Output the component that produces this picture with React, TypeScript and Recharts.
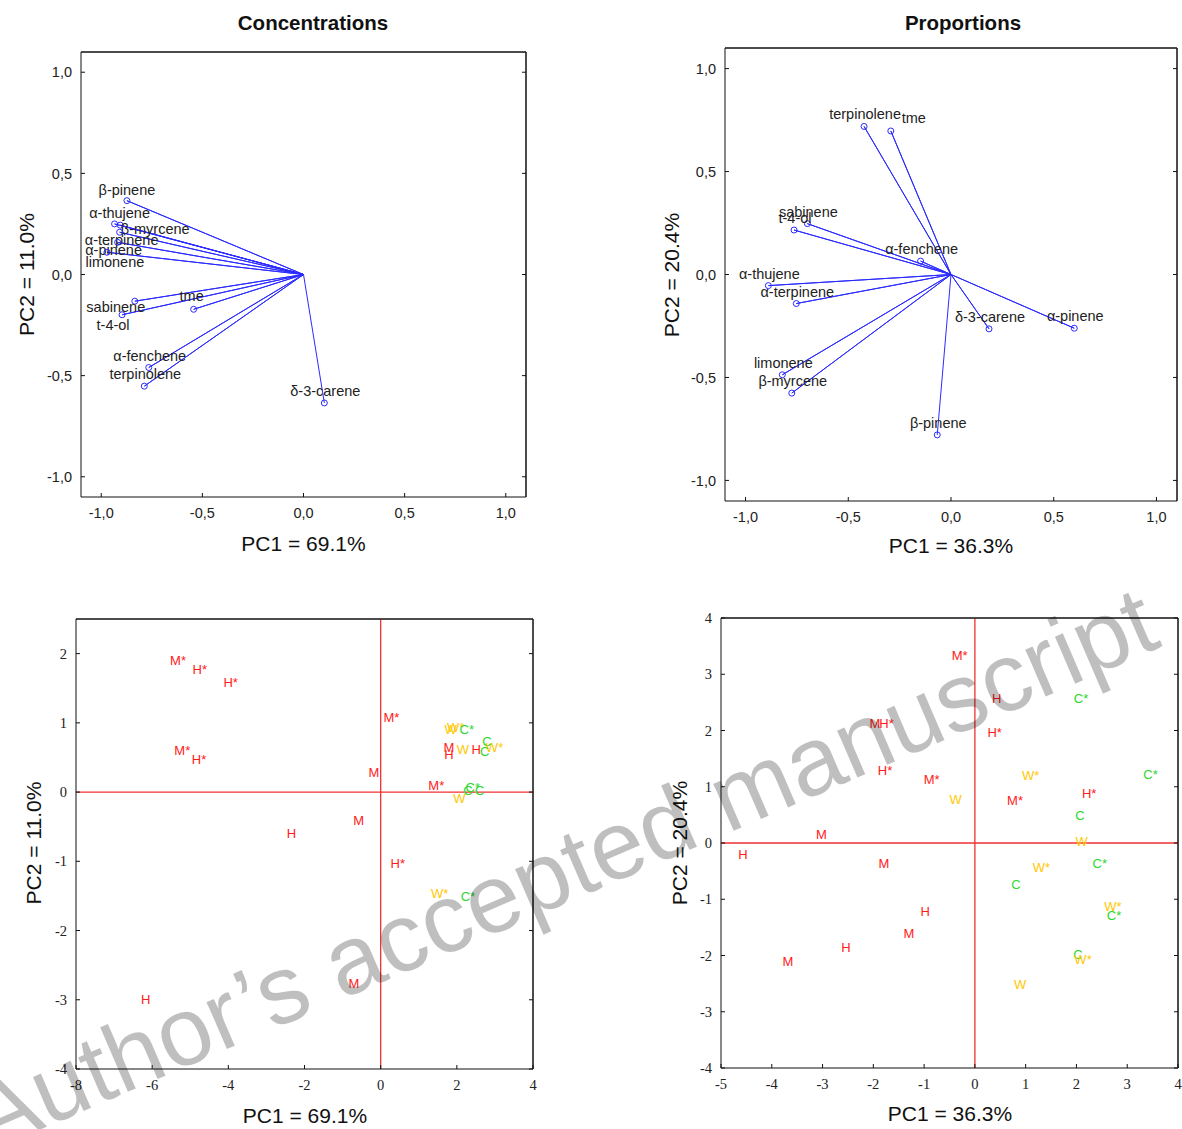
import { ScatterChart, Scatter, XAxis, YAxis, ReferenceLine, Label } from 'recharts';

// loadings, concentrations
const concNames = ['β-pinene', 'α-thujene', 'β-myrcene', 'α-terpinene', 'α-pinene', 'limonene', 'sabinene', 't-4-ol', 'tme', 'α-fenchene', 'terpinolene', 'δ-3-carene'];
const concPC1 = [-0.873, -0.934, -0.906, -0.909, -0.919, -0.972, -0.834, -0.897, -0.543, -0.765, -0.787, 0.103];
const concPC2 = [0.365, 0.250, 0.244, 0.209, 0.159, 0.110, -0.132, -0.199, -0.172, -0.460, -0.552, -0.635];

// loadings, proportions
const propNames = ['terpinolene', 'tme', 'sabinene', 't-4-ol', 'α-fenchene', 'α-thujene', 'α-terpinene', 'δ-3-carene', 'α-pinene', 'limonene', 'β-myrcene', 'β-pinene'];
const propPC1 = [-0.423, -0.293, -0.699, -0.764, -0.148, -0.889, -0.753, 0.185, 0.600, -0.821, -0.775, -0.067];
const propPC2 = [0.719, 0.697, 0.247, 0.216, 0.065, -0.054, -0.141, -0.264, -0.261, -0.487, -0.576, -0.779];

// scores, concentrations
const concTags = ['M*', 'H*', 'H*', 'M*', 'W', 'W*', 'C*', 'M*', 'H*', 'M', 'H', 'W', 'H', 'C', 'C', 'W*', 'M', 'M*', 'C', 'C*', 'C', 'W', 'M', 'H', 'H*', 'W*', 'C*', 'M', 'H'];
const concScorePC1 = [-5.32, -4.75, -3.94, 0.28, 1.84, 1.97, 2.26, -5.21, -4.77, 1.79, 1.79, 2.16, 2.51, 2.79, 2.73, 2.99, -0.18, 1.46, 2.29, 2.42, 2.6, 2.07, -0.58, -2.34, 0.45, 1.55, 2.29, -0.7, -6.17];
const concScorePC2 = [1.9, 1.77, 1.59, 1.08, 0.9, 0.93, 0.9, 0.6, 0.47, 0.64, 0.55, 0.62, 0.62, 0.73, 0.58, 0.65, 0.29, 0.09, 0.03, 0.06, 0.03, -0.09, -0.41, -0.6, -1.03, -1.47, -1.51, -2.76, -2.99];

// scores, proportions
const propTags = ['M*', 'H', 'C*', 'M', 'H*', 'H*', 'H*', 'M*', 'W*', 'C*', 'H*', 'W', 'M*', 'C', 'M', 'W', 'H', 'M', 'W*', 'C*', 'C', 'W*', 'C*', 'H', 'M', 'H', 'M', 'C', 'W*', 'W'];
const propScorePC1 = [-0.3, 0.43, 2.09, -1.97, -1.74, 0.39, -1.77, -0.85, 1.1, 3.46, 2.25, -0.38, 0.79, 2.07, -3.02, 2.1, -4.57, -1.79, 1.31, 2.46, 0.81, 2.72, 2.74, -0.98, -1.3, -2.54, -3.68, 2.03, 2.13, 0.89];
const propScorePC2 = [3.33, 2.57, 2.57, 2.13, 2.13, 1.96, 1.29, 1.13, 1.2, 1.21, 0.88, 0.77, 0.76, 0.49, 0.16, 0.02, -0.21, -0.37, -0.44, -0.37, -0.74, -1.13, -1.29, -1.21, -1.61, -1.85, -2.1, -1.99, -2.07, -2.52];

const loadTicks = [-1, -0.5, 0, 0.5, 1];
const concXTicks = [-8, -6, -4, -2, 0, 2, 4];
const concYTicks = [-4, -3, -2, -1, 0, 1, 2];
const propXTicks = [-5, -4, -3, -2, -1, 0, 1, 2, 3, 4];
const propYTicks = [-4, -3, -2, -1, 0, 1, 2, 3, 4];

// label nudges (px) where the default "above the circle" placement was moved
const concShift: Record<string, [number, number]> = {
  'β-pinene': [0, -11],
  'α-thujene': [5, -11],
  'β-myrcene': [35, 4],
  'α-terpinene': [2, 8],
  'α-pinene': [-4, 8],
  'limonene': [8, 10],
  'sabinene': [-19, 6],
  't-4-ol': [-9, 10],
  'tme': [-2, -13],
};
const propShift: Record<string, [number, number]> = {
  'tme': [23, -13],
};

const SANS = '"Liberation Sans", Arial, sans-serif';
const SERIF = '"Liberation Serif", "Times New Roman", serif';
const BLUE = '#2b2bff';

const comma = (v: number) => v.toFixed(1).replace('.', ',');
const intFmt = (v: number) => String(v);

function starData(names: string[], xs: number[], ys: number[]) {
  const out: any[] = [];
  names.forEach((name, i) => {
    out.push({ x: 0, y: 0, origin: true });
    out.push({ x: xs[i], y: ys[i], name });
  });
  return out;
}

function scoreData(tags: string[], xs: number[], ys: number[]) {
  return tags.map((tag, i) => ({ x: xs[i], y: ys[i], tag }));
}

const vectorShape = (shift: Record<string, [number, number]>) => (props: any) => {
  const { cx, cy, payload } = props;
  if (payload.origin) return <g />;
  const [dx, dy] = shift[payload.name] ?? [1, -12];
  return (
    <g>
      <circle cx={cx} cy={cy} r={3} fill="none" stroke={BLUE} strokeWidth={1} />
      <text x={cx + dx} y={cy + dy} textAnchor="middle" dominantBaseline="central" fontFamily={SANS} fontSize={14.5} fill="#222">
        {payload.name}
      </text>
    </g>
  );
};

const tagColor = (tag: string) => (tag[0] === 'W' ? '#ffc800' : tag[0] === 'C' ? '#2cd82c' : '#ff1a1a');

const tagShape = (props: any) => {
  const { cx, cy, payload } = props;
  return (
    <text x={cx} y={cy} textAnchor="middle" dominantBaseline="central" fontFamily={SANS} fontSize={13} fill={tagColor(payload.tag)}>
      {payload.tag}
    </text>
  );
};

const textAt = (key: string, text: string, x: number, y: number, size: number, opts: { vertical?: boolean; bold?: boolean } = {}) => (
  <Label
    key={key}
    content={() => (
      <text
        x={x}
        y={y}
        transform={opts.vertical ? `rotate(-90 ${x} ${y})` : undefined}
        textAnchor="middle"
        dominantBaseline="central"
        fontFamily={SANS}
        fontSize={size}
        fontWeight={opts.bold ? 'bold' : 'normal'}
        fill="#111"
      >
        {text}
      </text>
    )}
  />
);

interface FrameOpts {
  xd: [number, number];
  yd: [number, number];
  xt: number[];
  yt: number[];
  fmt: (v: number) => string;
  font: string;
  leftW: number;
  bottomH: number;
  title?: string;
  titleX?: number;
  xTitle: string;
  xTitlePos: [number, number];
  yTitle: string;
  yTitlePos: [number, number];
}

function frame(o: FrameOpts) {
  const tickFont = { fontSize: 14.5, fontFamily: o.font, fill: '#222' };
  const line = { stroke: '#111' };
  return [
    <XAxis key="xb" type="number" dataKey="x" domain={o.xd} ticks={o.xt} interval={0} allowDataOverflow height={o.bottomH}
      tickFormatter={o.fmt} tickSize={-4} tickMargin={15} tick={tickFont} axisLine={line} tickLine={line}>
      {textAt('xt', o.xTitle, o.xTitlePos[0], o.xTitlePos[1], 21)}
      {o.title ? textAt('tt', o.title, o.titleX ?? 0, 22, 20.5, { bold: true }) : null}
    </XAxis>,
    <XAxis key="xt" xAxisId="top" orientation="top" type="number" domain={o.xd} ticks={o.xt} interval={0} allowDataOverflow height={1}
      tickFormatter={() => ''} tickSize={-4} axisLine={line} tickLine={line} />,
    <YAxis key="yl" type="number" dataKey="y" domain={o.yd} ticks={o.yt} interval={0} allowDataOverflow width={o.leftW}
      tickFormatter={o.fmt} tickSize={-4} tickMargin={13} tick={tickFont} axisLine={line} tickLine={line}>
      {textAt('yt', o.yTitle, o.yTitlePos[0], o.yTitlePos[1], 21, { vertical: true })}
    </YAxis>,
    <YAxis key="yr" yAxisId="right" orientation="right" type="number" domain={o.yd} ticks={o.yt} interval={0} allowDataOverflow width={1}
      tickFormatter={() => ''} tickSize={-4} axisLine={line} tickLine={line} />,
    // keeps the top and right axes in use
    <Scatter key="ghost" xAxisId="top" yAxisId="right" data={[]} dataKey="y" isAnimationActive={false} />,
    <ReferenceLine key="rt" y={o.yd[1]} stroke="#111" />,
    <ReferenceLine key="rr" x={o.xd[1]} stroke="#111" />,
  ];
}

export default function App() {
  const concStar = starData(concNames, concPC1, concPC2);
  const propStar = starData(propNames, propPC1, propPC2);
  const concScores = scoreData(concTags, concScorePC1, concScorePC2);
  const propScores = scoreData(propTags, propScorePC1, propScorePC2);

  return (
    <div style={{ position: 'absolute', left: 0, top: 0, width: 1182, height: 1129, background: '#fff', overflow: 'hidden' }}>
      <div style={{ position: 'absolute', left: 0, top: 0 }}>
        <ScatterChart width={591} height={565} margin={{ top: 51, right: 64, bottom: 0, left: 0 }}>
          {frame({
            xd: [-1.1, 1.1], yd: [-1.1, 1.1], xt: loadTicks, yt: loadTicks, fmt: comma, font: SANS,
            leftW: 81, bottomH: 68, title: 'Concentrations', titleX: 313,
            xTitle: 'PC1 = 69.1%', xTitlePos: [303.5, 543], yTitle: 'PC2 = 11.0%', yTitlePos: [26, 274.5],
          })}
          <Scatter data={concStar} line={{ stroke: BLUE, strokeWidth: 1 }} lineType="joint" shape={vectorShape(concShift)} isAnimationActive={false} />
        </ScatterChart>
      </div>

      <div style={{ position: 'absolute', left: 591, top: 0 }}>
        <ScatterChart width={591} height={565} margin={{ top: 47, right: 4, bottom: 0, left: 0 }}>
          {frame({
            xd: [-1.1, 1.1], yd: [-1.1, 1.1], xt: loadTicks, yt: loadTicks, fmt: comma, font: SANS,
            leftW: 134, bottomH: 64, title: 'Proportions', titleX: 372,
            xTitle: 'PC1 = 36.3%', xTitlePos: [360, 545], yTitle: 'PC2 = 20.4%', yTitlePos: [80, 275],
          })}
          <Scatter data={propStar} line={{ stroke: BLUE, strokeWidth: 1 }} lineType="joint" shape={vectorShape(propShift)} isAnimationActive={false} />
        </ScatterChart>
      </div>

      <div style={{ position: 'absolute', left: 0, top: 565 }}>
        <ScatterChart width={591} height={564} margin={{ top: 53, right: 57, bottom: 0, left: 0 }}>
          {frame({
            xd: [-8, 4], yd: [-4, 2.5], xt: concXTicks, yt: concYTicks, fmt: intFmt, font: SERIF,
            leftW: 76, bottomH: 60,
            xTitle: 'PC1 = 69.1%', xTitlePos: [305, 550], yTitle: 'PC2 = 11.0%', yTitlePos: [33, 278],
          })}
          <ReferenceLine x={0} stroke="#f03030" strokeWidth={1.3} />
          <ReferenceLine y={0} stroke="#f03030" strokeWidth={1.3} />
          <Scatter data={concScores} shape={tagShape} isAnimationActive={false} />
        </ScatterChart>
      </div>

      <div style={{ position: 'absolute', left: 591, top: 565 }}>
        <ScatterChart width={591} height={564} margin={{ top: 52, right: 3, bottom: 0, left: 0 }}>
          {frame({
            xd: [-5, 4], yd: [-4, 4], xt: propXTicks, yt: propYTicks, fmt: intFmt, font: SERIF,
            leftW: 130, bottomH: 61,
            xTitle: 'PC1 = 36.3%', xTitlePos: [359, 548], yTitle: 'PC2 = 20.4%', yTitlePos: [88, 278],
          })}
          <ReferenceLine x={0} stroke="#f03030" strokeWidth={1.3} />
          <ReferenceLine y={0} stroke="#f03030" strokeWidth={1.3} />
          <Scatter data={propScores} shape={tagShape} isAnimationActive={false} />
        </ScatterChart>
      </div>

      <svg width={1182} height={1129} style={{ position: 'absolute', left: 0, top: 0, pointerEvents: 'none' }}>
        <text x={-12} y={1152} transform="rotate(-23.3 -12 1152)" fontFamily={SANS} fontSize={97} fill="rgba(0,0,0,0.25)">
          Author’s accepted manuscript
        </text>
      </svg>
    </div>
  );
}
